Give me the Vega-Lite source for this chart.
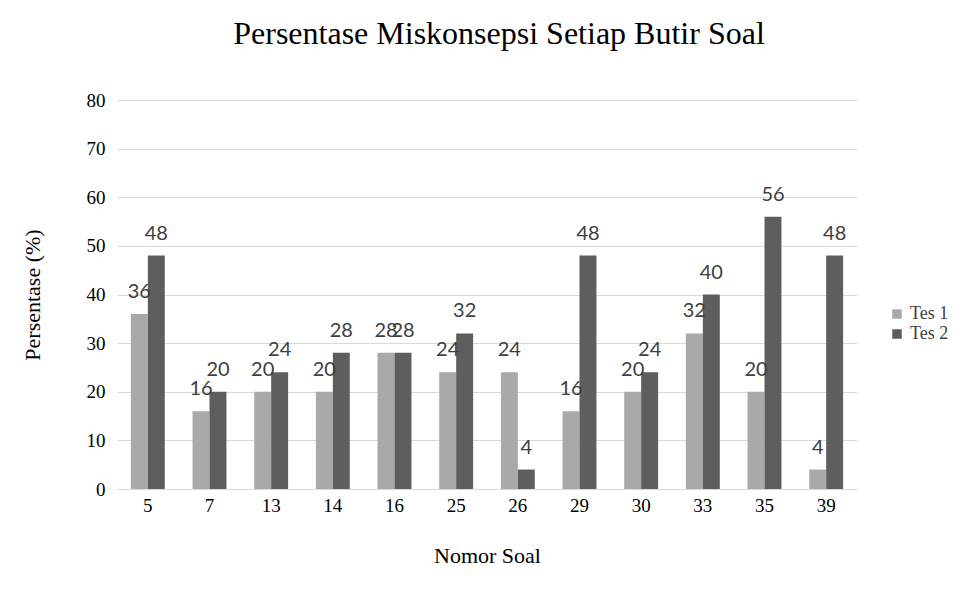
{
  "$schema": "https://vega.github.io/schema/vega-lite/v6.json",
  "width": 740,
  "height": 389,
  "autosize": {"type": "none"},
  "padding": {"left": 117, "top": 100, "right": 123, "bottom": 106},
  "background": "white",
  "title": {
    "text": "Persentase Miskonsepsi Setiap Butir Soal",
    "font": "Liberation Serif",
    "fontSize": 32,
    "fontWeight": "normal",
    "color": "#000000",
    "offset": 40,
    "anchor": "middle",
    "dx": 12
  },
  "data": {
    "values": [
      {"soal": "5", "tes": "Tes 1", "nilai": 36}, {"soal": "5", "tes": "Tes 2", "nilai": 48},
      {"soal": "7", "tes": "Tes 1", "nilai": 16}, {"soal": "7", "tes": "Tes 2", "nilai": 20},
      {"soal": "13", "tes": "Tes 1", "nilai": 20}, {"soal": "13", "tes": "Tes 2", "nilai": 24},
      {"soal": "14", "tes": "Tes 1", "nilai": 20}, {"soal": "14", "tes": "Tes 2", "nilai": 28},
      {"soal": "16", "tes": "Tes 1", "nilai": 28}, {"soal": "16", "tes": "Tes 2", "nilai": 28},
      {"soal": "25", "tes": "Tes 1", "nilai": 24}, {"soal": "25", "tes": "Tes 2", "nilai": 32},
      {"soal": "26", "tes": "Tes 1", "nilai": 24}, {"soal": "26", "tes": "Tes 2", "nilai": 4},
      {"soal": "29", "tes": "Tes 1", "nilai": 16}, {"soal": "29", "tes": "Tes 2", "nilai": 48},
      {"soal": "30", "tes": "Tes 1", "nilai": 20}, {"soal": "30", "tes": "Tes 2", "nilai": 24},
      {"soal": "33", "tes": "Tes 1", "nilai": 32}, {"soal": "33", "tes": "Tes 2", "nilai": 40},
      {"soal": "35", "tes": "Tes 1", "nilai": 20}, {"soal": "35", "tes": "Tes 2", "nilai": 56},
      {"soal": "39", "tes": "Tes 1", "nilai": 4}, {"soal": "39", "tes": "Tes 2", "nilai": 48}
    ]
  },
  "encoding": {
    "x": {
      "field": "soal",
      "type": "nominal",
      "sort": null,
      "scale": {"paddingInner": 0.45, "paddingOuter": 0.225},
      "axis": {
        "title": "Nomor Soal",
        "titleFont": "Liberation Serif",
        "titleFontSize": 22,
        "titleFontWeight": "normal",
        "titleColor": "#000000",
        "titlePadding": 30,
        "labelFont": "Liberation Serif",
        "labelFontSize": 19,
        "labelColor": "#000000",
        "labelAngle": 0,
        "labelPadding": 7,
        "ticks": false,
        "domainColor": "#d9d9d9",
        "grid": false
      }
    },
    "xOffset": {"field": "tes", "type": "nominal", "scale": {"paddingInner": 0}},
    "y": {
      "field": "nilai",
      "type": "quantitative",
      "scale": {"domain": [0, 80]},
      "axis": {
        "title": "Persentase (%)",
        "titleFont": "Liberation Serif",
        "titleFontSize": 22,
        "titleFontWeight": "normal",
        "titleColor": "#000000",
        "titlePadding": 42,
        "labelFont": "Liberation Serif",
        "labelFontSize": 19,
        "labelColor": "#000000",
        "labelPadding": 12,
        "values": [0, 10, 20, 30, 40, 50, 60, 70, 80],
        "ticks": false,
        "domain": false,
        "gridColor": "#d9d9d9",
        "gridWidth": 1
      }
    }
  },
  "layer": [
    {
      "mark": {"type": "bar"},
      "encoding": {
        "color": {
          "field": "tes",
          "type": "nominal",
          "scale": {"domain": ["Tes 1", "Tes 2"], "range": ["#a9a9a9", "#5e5e5e"]},
          "legend": {
            "title": null,
            "orient": "none",
            "legendX": 771,
            "legendY": 205,
            "symbolType": "square",
            "symbolSize": 90,
            "labelFont": "Liberation Serif",
            "labelFontSize": 18,
            "labelColor": "#404040",
            "rowPadding": 2
          }
        }
      }
    },
    {
      "mark": {
        "type": "text",
        "baseline": "bottom",
        "dy": -12,
        "font": "Lato",
        "fontSize": 20,
        "color": "#404040"
      },
      "encoding": {"text": {"field": "nilai", "type": "quantitative"}}
    }
  ],
  "config": {"view": {"stroke": null}}
}
